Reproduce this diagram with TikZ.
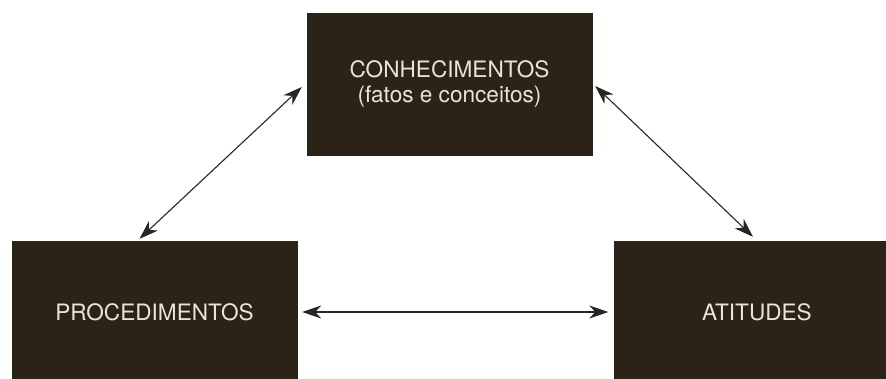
\documentclass[tikz,border=0pt]{standalone}
\usepackage{fontspec}
\setmainfont{TeX Gyre Heros}
\usetikzlibrary{arrows.meta}
\definecolor{boxfill}{RGB}{43,35,24}
\definecolor{boxtext}{RGB}{232,228,214}
\definecolor{arrcol}{RGB}{40,38,34}
\tikzset{
  box/.style={rectangle, fill=boxfill, draw=boxfill, minimum width=285pt, minimum height=142pt,
    inner sep=0pt, text=boxtext, align=center, font=\fontsize{22.6}{25.5}\selectfont},
  arr/.style={draw=arrcol, line width=1.1pt, {Stealth[length=19pt,width=13pt,inset=6pt]}-{Stealth[length=19pt,width=13pt,inset=6pt]}}
}
\begin{document}
\begin{tikzpicture}[x=1pt,y=-1pt]
\useasboundingbox (0,0) rectangle (886,378);
\clip (0,0) rectangle (886,378);
\fill[white] (0,0) rectangle (886,378);
\node[box] (T) at (449.5,84) {CONHECIMENTOS\\(fatos e conceitos)};
\node[box] (L) at (154.5,312) {PROCEDIMENTOS};
\node[box] (R) at (757,312) {ATITUDES};
\draw[arr] ([xshift=-15pt,yshift=2pt]L.north) -- ([xshift=-5pt,yshift=-3pt]T.west);
\draw[arr] ([xshift=3pt,yshift=-2pt]T.east) -- ([xshift=-4pt,yshift=4pt]R.north);
\draw[arr] ([xshift=5pt]L.east) -- ([xshift=-6pt]R.west);
\end{tikzpicture}
\end{document}
